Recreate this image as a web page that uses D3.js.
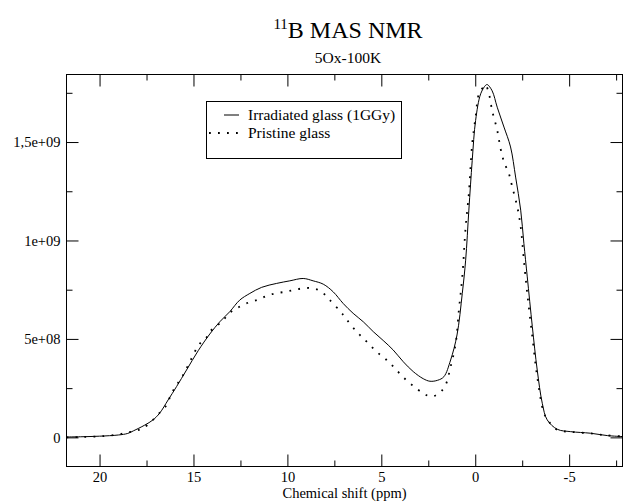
<!DOCTYPE html>
<html>
<head>
<meta charset="utf-8">
<script src="https://cdn.jsdelivr.net/npm/d3@7"></script>
<style>
  html, body { margin: 0; padding: 0; background: #fff; }
  svg { display: block; }
</style>
</head>
<body>
<svg id="chart" width="624" height="502"></svg>
<script>
// 11B MAS NMR spectra, sample 5Ox-100K (intensity in units of 1e8)
const shiftIrradiated = [21.76, 21, 20, 19, 18.5, 18.2, 17.6, 17.15, 16.8, 16.35, 15.9, 15.37, 14.75, 14.13, 13.6, 13.07, 12.54, 12.0, 11.37, 10.57, 9.87, 9.16, 8.63, 8.09, 7.56, 7.03, 6.5, 5.96, 5.43, 4.9, 4.37, 3.83, 3.3, 2.77, 2.41, 2.0, 1.67, 1.31, 0.97, 0.69, 0.51, 0.34, 0.16, -0.02, -0.29, -0.55, -0.64, -0.9, -1.17, -1.53, -1.88, -2.15, -2.42, -2.59, -2.77, -3.04, -3.3, -3.57, -3.83, -4.37, -5.08, -6.14, -7.03, -7.84];
const irradiated = [0.02, 0.03, 0.06, 0.12, 0.2, 0.33, 0.62, 0.89, 1.23, 1.9, 2.58, 3.42, 4.4, 5.25, 5.87, 6.38, 6.97, 7.31, 7.62, 7.82, 7.95, 8.07, 7.95, 7.78, 7.39, 6.8, 6.3, 5.87, 5.37, 4.92, 4.44, 3.84, 3.34, 2.98, 2.85, 2.9, 3.08, 3.93, 5.2, 7.31, 9.0, 11.54, 14.07, 16.1, 17.45, 17.88, 17.92, 17.6, 16.77, 15.76, 14.75, 13.22, 11.54, 9.85, 8.15, 5.62, 3.42, 1.73, 0.89, 0.41, 0.29, 0.21, 0.09, 0.04];

const shiftPristine = [21.76, 21, 20, 19.1, 18.5, 18.0, 17.68, 17.2, 16.8, 16.43, 16.17, 15.9, 15.55, 15.19, 14.83, 14.57, 14.3, 14.13, 13.5, 13.06, 12.62, 12.09, 11.55, 11.11, 10.67, 10.13, 9.69, 9.16, 8.63, 8.18, 7.74, 7.12, 6.94, 6.32, 5.78, 5.25, 4.72, 4.28, 3.83, 3.3, 2.77, 2.36, 1.97, 1.61, 1.31, 1.04, 0.87, 0.69, 0.51, 0.34, 0.16, -0.02, -0.2, -0.46, -0.55, -0.73, -0.9, -1.17, -1.35, -1.53, -1.79, -1.97, -2.24, -2.42, -2.59, -2.77, -3.04, -3.3, -3.66, -3.92, -4.37, -5.08, -6.14, -7.03, -7.84];
const pristine = [0.0, 0.02, 0.05, 0.13, 0.25, 0.35, 0.47, 0.85, 1.25, 1.65, 2.24, 2.65, 3.17, 3.84, 4.52, 4.86, 5.08, 5.37, 5.87, 6.33, 6.6, 6.84, 7.0, 7.18, 7.31, 7.39, 7.48, 7.57, 7.57, 7.39, 6.97, 6.33, 6.1, 5.37, 4.86, 4.35, 3.93, 3.51, 3.05, 2.61, 2.24, 2.07, 2.21, 2.6, 3.59, 4.78, 6.47, 8.15, 10.69, 12.38, 14.92, 16.27, 17.45, 17.82, 17.9, 17.45, 16.6, 15.6, 14.66, 13.99, 13.4, 12.72, 11.7, 10.69, 9.0, 7.31, 5.11, 3.08, 1.23, 0.8, 0.38, 0.28, 0.2, 0.1, 0.05];

const xMajorTicks = [20, 15, 10, 5, 0, -5];
const xMinorTicks = [17.5, 12.5, 7.5, 2.5, -2.5, -7.5];
const yMajorTicks = [0, 5e8, 1e9, 1.5e9];
const yTickLabels = ["0", "5e+08", "1e+09", "1,5e+09"];
const yMinorTicks = [2.5e8, 7.5e8, 1.25e9, 1.75e9];
const seriesNames = ["Irradiated glass (1GGy)", "Pristine glass"];

// pick the first installed Times-like face (compared against a monospace baseline)
function pickSerif() {
  const candidates = ["Liberation Serif", "Times New Roman", "Tinos", "Nimbus Roman",
                      "Nimbus Roman No9 L", "FreeSerif", "DejaVu Serif", "Noto Serif"];
  const ctx = document.createElement("canvas").getContext("2d");
  const sample = "B MAS NMR Irradiated glass 0123456789";
  ctx.font = "40px monospace";
  const mono = ctx.measureText(sample).width;
  ctx.font = "40px sans-serif";
  const sans = ctx.measureText(sample).width;
  for (const c of candidates) {
    ctx.font = `40px "${c}", monospace`;
    const w1 = ctx.measureText(sample).width;
    ctx.font = `40px "${c}", sans-serif`;
    const w2 = ctx.measureText(sample).width;
    if (w1 !== mono || w2 !== sans) return `"${c}", serif`;
  }
  return "serif";
}
const FONT = pickSerif();

const svg = d3.select("#chart").style("font-family", FONT);
const plotLeft = 66.5, plotRight = 622.5, plotTop = 74.5, plotBottom = 466.5;

const x = d3.scaleLinear().domain([21.76, -7.84]).range([plotLeft, plotRight]);
const y = d3.scaleLinear().domain([-1.48e8, 1.843e9]).range([plotBottom, plotTop]);

// frame
svg.append("rect")
  .attr("x", plotLeft).attr("y", plotTop)
  .attr("width", plotRight - plotLeft).attr("height", plotBottom - plotTop)
  .attr("fill", "none").attr("stroke", "#000").attr("stroke-width", 1);

function styleAxis(g) {
  g.attr("font-family", null);
  g.select(".domain").remove();
  g.selectAll(".tick line").attr("stroke", "#000").attr("stroke-width", 1);
  g.selectAll(".tick text")
    .style("font-family", FONT)
    .attr("font-size", 14.5).attr("fill", "#000");
}

// x axes (ticks point inward on both bottom and top)
svg.append("g").attr("transform", `translate(0,${plotBottom})`)
  .call(d3.axisBottom(x).tickValues(xMajorTicks).tickSize(-12).tickPadding(5)
    .tickFormat(d => String(d)))
  .call(styleAxis);
svg.append("g").attr("transform", `translate(0,${plotBottom})`)
  .call(d3.axisBottom(x).tickValues(xMinorTicks).tickSize(-6).tickFormat(""))
  .call(styleAxis);
svg.append("g").attr("transform", `translate(0,${plotTop})`)
  .call(d3.axisTop(x).tickValues(xMajorTicks).tickSize(-12).tickFormat(""))
  .call(styleAxis);
svg.append("g").attr("transform", `translate(0,${plotTop})`)
  .call(d3.axisTop(x).tickValues(xMinorTicks).tickSize(-6).tickFormat(""))
  .call(styleAxis);

// y axes
svg.append("g").attr("transform", `translate(${plotLeft},0)`)
  .call(d3.axisLeft(y).tickValues(yMajorTicks).tickSize(-12).tickPadding(6)
    .tickFormat((d, i) => yTickLabels[i]))
  .call(styleAxis);
svg.append("g").attr("transform", `translate(${plotLeft},0)`)
  .call(d3.axisLeft(y).tickValues(yMinorTicks).tickSize(-6).tickFormat(""))
  .call(styleAxis);
svg.append("g").attr("transform", `translate(${plotRight},0)`)
  .call(d3.axisRight(y).tickValues(yMajorTicks).tickSize(-12).tickFormat(""))
  .call(styleAxis);
svg.append("g").attr("transform", `translate(${plotRight},0)`)
  .call(d3.axisRight(y).tickValues(yMinorTicks).tickSize(-6).tickFormat(""))
  .call(styleAxis);

// spectra
const line = d3.line()
  .x(d => x(d[0]))
  .y(d => y(d[1] * 1e8))
  .curve(d3.curveCatmullRom.alpha(0.5));

const irrData = d3.zip(shiftIrradiated, irradiated);
const priData = d3.zip(shiftPristine, pristine);

svg.append("path").datum(irrData)
  .attr("d", line).attr("fill", "none")
  .attr("stroke", "#000").attr("stroke-width", 1);

svg.append("path").datum(priData)
  .attr("d", line).attr("fill", "none")
  .attr("stroke", "#000").attr("stroke-width", 1.8)
  .attr("stroke-dasharray", "1.8,7.2");

// titles
const title = svg.append("text")
  .attr("x", 348).attr("y", 38).attr("text-anchor", "middle")
  .style("font-family", FONT);
title.append("tspan").attr("font-size", 15).attr("dy", -9).text("11");
title.append("tspan").attr("font-size", 24).attr("dy", 9).text("B MAS NMR");

svg.append("text")
  .attr("x", 348).attr("y", 63).attr("text-anchor", "middle")
  .style("font-family", FONT)
  .attr("font-size", 15.5).text("5Ox-100K");

svg.append("text")
  .attr("x", 344.5).attr("y", 498).attr("text-anchor", "middle")
  .style("font-family", FONT)
  .attr("font-size", 14.5).text("Chemical shift (ppm)");

// legend
const legend = svg.append("g");
legend.append("rect")
  .attr("x", 206.5).attr("y", 101.5).attr("width", 195).attr("height", 57)
  .attr("fill", "#fff").attr("stroke", "#000").attr("stroke-width", 1);
legend.append("line")
  .attr("x1", 224).attr("x2", 239).attr("y1", 115).attr("y2", 115)
  .attr("stroke", "#000").attr("stroke-width", 1);
legend.append("line")
  .attr("x1", 209).attr("x2", 239).attr("y1", 133).attr("y2", 133)
  .attr("stroke", "#000").attr("stroke-width", 1.8)
  .attr("stroke-dasharray", "1.8,7.2");
legend.selectAll("text.entry").data(seriesNames).join("text")
  .attr("class", "entry")
  .attr("x", 248).attr("y", (d, i) => 120 + i * 18)
  .style("font-family", FONT)
  .attr("font-size", 15.5).text(d => d);
</script>
</body>
</html>
